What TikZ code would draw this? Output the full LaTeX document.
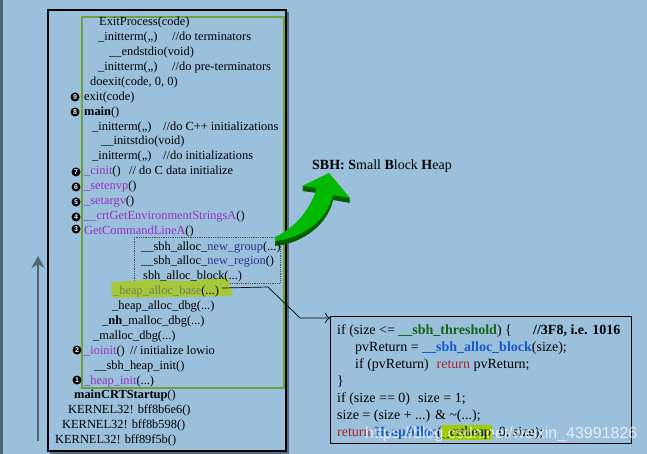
\documentclass[tikz,border=0pt]{standalone}
\usepackage{fontspec}
\setmainfont{Liberation Serif}
\newfontfamily\bulfont{Liberation Sans}
\newfontfamily\wmfont{Liberation Sans}
\usetikzlibrary{arrows.meta}
\definecolor{bg}{RGB}{155,192,219}
\definecolor{strip}{RGB}{79,100,114}
\definecolor{gbox}{RGB}{110,160,60}
\definecolor{purp}{RGB}{150,50,190}
\definecolor{indig}{RGB}{50,50,140}
\definecolor{hlg}{RGB}{166,200,60}
\definecolor{olivetxt}{RGB}{115,128,85}
\definecolor{dkg}{RGB}{20,100,20}
\definecolor{bblue}{RGB}{20,90,200}
\definecolor{rred}{RGB}{165,35,45}
\definecolor{agreen}{RGB}{0,185,0}
\definecolor{adark}{RGB}{0,95,0}
\definecolor{arrowgray}{RGB}{78,102,120}
\definecolor{shadowgray}{RGB}{90,108,122}
\definecolor{hly}{RGB}{160,205,0}
\newcommand\myLf{\fontsize{12.4}{14}\selectfont}
\newcommand\myRf{\fontsize{14}{16}\selectfont}
\tikzset{
  lt/.style={anchor=base west, inner sep=0pt, font=\myLf},
  rt/.style={anchor=base west, inner sep=0pt, font=\myRf},
  bul/.style={circle, fill=black, text=white, inner sep=0pt, minimum size=9pt, font=\bulfont\bfseries\fontsize{7}{7}\selectfont},
}
\begin{document}
\begin{tikzpicture}[x=1pt,y=-1pt]
\useasboundingbox (0,0) rectangle (647,454);
\fill[bg] (0,0) rectangle (647,454);
\fill[strip] (0,0) rectangle (3,454);
% upward arrow
\coordinate (ua) at (38,441);
\coordinate (ub) at (38,256);
\draw[arrowgray, line width=2pt, -{Stealth[length=12pt,width=13pt]}] (ua) -- (ub);
% outer box with shadow (right and bottom only)
\draw[shadowgray, line width=1.2pt] (288,12) -- (288,453) -- (50,453);
\draw[black, line width=1.2pt] (48,10) rectangle (286,451);
% green box
\draw[gbox, line width=1.3pt] (82,17) rectangle (284,388);
% dotted box
\draw[densely dotted, black!70, line width=0.8pt] (134,237) rectangle (280,283);
% highlight blob
\fill[hlg, rounded corners=3pt] (111,282) -- (150,280) -- (190,281) -- (228,277) -- (233,296) -- (180,297) -- (112,298) -- cycle;
% green 3D arrow
\foreach \s in {5,4,3,2,1}{
  \fill[adark, yshift=-\s pt] (275,237) .. controls (295,228) and (310,210) .. (317,188) -- (302,186) -- (329,173) -- (350,198) -- (333,195) .. controls (328,218) and (305,238) .. (275,241) -- cycle;
}
\fill[agreen] (275,237) .. controls (295,228) and (310,210) .. (317,188) -- (302,186) -- (329,173) -- (350,198) -- (333,195) .. controls (328,218) and (305,238) .. (275,241) -- cycle;
\node[anchor=base west, inner sep=0pt, font=\myRf] (sbh) at (312,170) {\textbf{SBH: S}mall \textbf{B}lock \textbf{H}eap};
% left stack text
\node[lt] (t1) at (99,26) {ExitProcess(code)};
\node[lt] (t2) at (98,41) {\_initterm(,,)};
\node[lt] (c2) at (172,41) {//do terminators};
\node[lt] (t3) at (109,56) {\_\_endstdio(void)};
\node[lt] (t4) at (98,71) {\_initterm(,,)};
\node[lt] (c4) at (172,71) {//do pre-terminators};
\node[lt] (t5) at (90,86) {doexit(code, 0, 0)};
\node[bul] (n9) at (75,97) {9};
\node[lt] (t6) at (84,101) {exit(code)};
\node[bul] (n8) at (75,112) {8};
\node[lt] (t7) at (84,116) {\textbf{main}()};
\node[lt] (t8) at (92,131) {\_initterm(,,)};
\node[lt] (c8) at (163,131) {//do C++ initializations};
\node[lt] (t9) at (101,145) {\_\_initstdio(void)};
\node[lt] (t10) at (92,160) {\_initterm(,,)};
\node[lt] (c10) at (163,160) {//do initializations};
\node[bul] (n7) at (76,172) {7};
\node[lt] (t11) at (84,175) {\textcolor{purp}{\_cinit}()};
\node[lt] (c11) at (129,175) {// do C data initialize};
\node[bul] (n6) at (76,187) {6};
\node[lt] (t12) at (84,190) {\textcolor{purp}{\_setenvp}()};
\node[bul] (n5) at (76,202) {5};
\node[lt] (t13) at (84,205) {\textcolor{purp}{\_setargv}()};
\node[bul] (n4) at (76,217) {4};
\node[lt] (t14) at (84,220) {\textcolor{purp}{\_\_crtGetEnvironmentStringsA}()};
\node[bul] (n3) at (76,229) {3};
\node[lt] (t15) at (84,234) {\textcolor{purp}{GetCommandLineA}()};
\node[lt] (t16) at (141,250) {\_\_sbh\_alloc\_\textcolor{indig}{new\_group}(...)};
\node[lt] (t17) at (141,264) {\_\_sbh\_alloc\_\textcolor{indig}{new\_region}()};
\node[lt] (t18) at (143,279) {sbh\_alloc\_block(...)};
\node[lt] (hab) at (113,294) {\textcolor{olivetxt}{\_heap\_alloc\_base}(...)};
\node[lt] (t20) at (112,309) {\_heap\_alloc\_dbg(...)};
\node[lt] (t21) at (102,324) {\_\textbf{nh}\_malloc\_dbg(...)};
\node[lt] (t22) at (93,339) {\_malloc\_dbg(...)};
\node[bul] (n2) at (77,350) {2};
\node[lt] (t23) at (84,354) {\textcolor{purp}{\_ioinit}()};
\node[lt] (c23) at (130,354) {// initialize lowio};
\node[lt] (t24) at (94,369) {\_\_sbh\_heap\_init()};
\node[bul] (n1) at (77,380) {1};
\node[lt] (t25) at (84,384) {\textcolor{purp}{\_heap\_init}(...)};
\node[lt] (t26) at (74,398) {\textbf{mainCRTStartup}()};
\node[lt] (t27) at (68,413) {KERNEL32! bff8b6e6()};
\node[lt] (t28) at (62,428) {KERNEL32! bff8b598()};
\node[lt] (t29) at (55,443) {KERNEL32! bff89f5b()};
% code box
\node[draw=black, line width=1.2pt, minimum width=301pt, minimum height=127pt, inner sep=0pt, anchor=north west] (code) at (330,316) {};
\coordinate (k1) at (268,287);
\coordinate (k2) at (300,318);
\draw[line width=0.7pt, -{To[length=5pt]}] ([xshift=3pt,yshift=3pt]hab.east) -- (k1) -- (k2) -- (code.west |- k2);
\node[rt] (r1) at (337,334) {if (size <= \textcolor{dkg}{\textbf{\_\_sbh\_threshold}}) \{};
\node[rt] (r1c) at (533,334) {\textbf{//3F8, i.e. 1016}};
\node[rt] (r2) at (355,351) {pvReturn = \textcolor{bblue}{\textbf{\_\_sbh\_alloc\_block}}(size);};
\node[rt] (r3) at (355,368) {if (pvReturn)\hspace{8pt}\textcolor{rred}{return} pvReturn;};
\node[rt] (r4) at (337,385) {\}};
\node[rt] (r5) at (337,402) {if (size == 0)\hspace{8pt}size = 1;};
\node[rt] (r6) at (337,419) {size = (size + ...) \& \textasciitilde(...);};
\setlength{\fboxsep}{1pt}
\node[rt] (r7) at (337,436) {\textcolor{rred}{return} \textcolor{bblue}{\textbf{HeapAlloc}}(\colorbox{hly}{\_crtheap}, 0, size);};
% watermark
\node[anchor=base west, inner sep=0pt, text=white, opacity=0.7, font=\wmfont\fontsize{16}{16}\selectfont] (wm) at (365,438) {https://blog.csdn.net/weixin\_43991826};
\end{tikzpicture}
\end{document}
